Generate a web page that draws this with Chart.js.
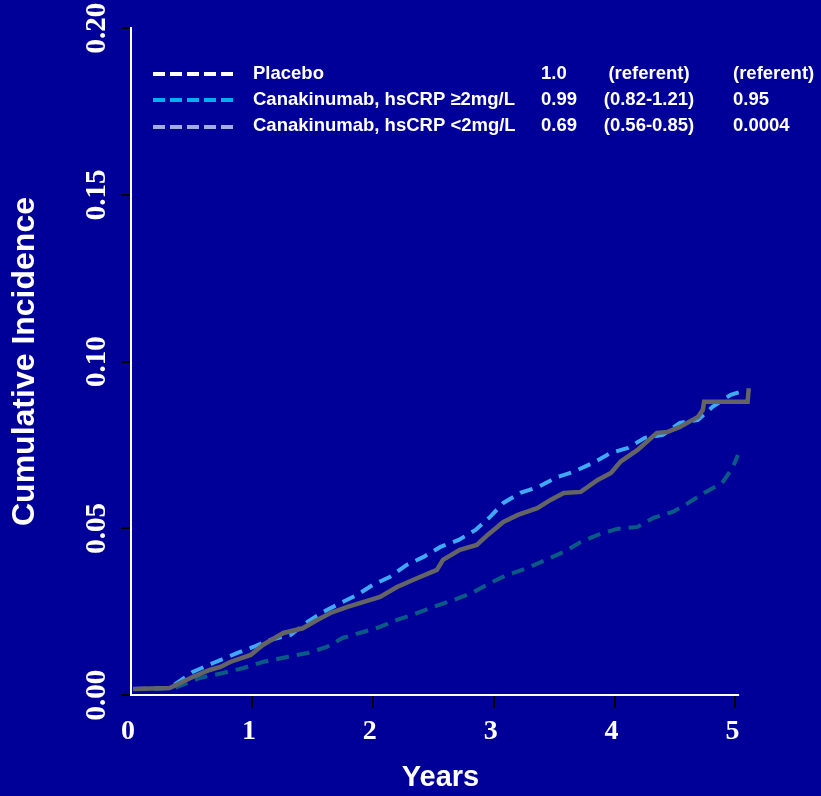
<!DOCTYPE html>
<html>
<head>
<meta charset="utf-8">
<script src="https://cdn.jsdelivr.net/npm/chart.js@4.4.0/dist/chart.umd.min.js"></script>
<style>
  html, body { margin: 0; padding: 0; background: #000099; }
  #wrap { width: 821px; height: 796px; }
</style>
</head>
<body>
<div id="wrap"><canvas id="km"></canvas></div>
<script>
// cumulative incidence curves (years, incidence)
const placeboYears = [0.02, 0.32, 0.51, 0.65, 0.74, 0.82, 0.99, 1.09, 1.26, 1.42, 1.54, 1.65, 1.79, 1.98, 2.06, 2.20, 2.37, 2.53, 2.58, 2.72, 2.86, 2.95, 3.08, 3.20, 3.36, 3.47, 3.58, 3.72, 3.86, 3.97, 4.05, 4.19, 4.35, 4.44, 4.54, 4.69, 4.73, 4.74, 5.10, 5.11];
const placeboInc = [0.0018, 0.0021, 0.0054, 0.0075, 0.0084, 0.0099, 0.012, 0.015, 0.0186, 0.020, 0.0225, 0.0246, 0.0264, 0.0285, 0.0294, 0.0324, 0.0351, 0.0375, 0.0405, 0.0435, 0.045, 0.048, 0.0519, 0.054, 0.056, 0.0585, 0.0606, 0.0609, 0.0645, 0.0666, 0.070, 0.0735, 0.0786, 0.0789, 0.0804, 0.0834, 0.0855, 0.0879, 0.0879, 0.092];

const highCrpYears = [0.02, 0.32, 0.51, 0.68, 0.88, 1.01, 1.15, 1.32, 1.46, 1.59, 1.75, 1.87, 2.00, 2.14, 2.28, 2.42, 2.56, 2.71, 2.85, 2.97, 3.08, 3.22, 3.37, 3.53, 3.66, 3.82, 3.97, 4.11, 4.25, 4.40, 4.54, 4.69, 4.81, 4.96, 5.04];
const highCrpInc = [0.0018, 0.0021, 0.0069, 0.0096, 0.0126, 0.0144, 0.0165, 0.018, 0.0219, 0.0249, 0.0279, 0.030, 0.033, 0.0354, 0.039, 0.0414, 0.0444, 0.0465, 0.0495, 0.0534, 0.0576, 0.0606, 0.0624, 0.0654, 0.0669, 0.0696, 0.0726, 0.0741, 0.0771, 0.078, 0.0816, 0.0825, 0.0864, 0.090, 0.0909];

const lowCrpYears = [0.02, 0.36, 0.57, 0.76, 0.93, 1.09, 1.29, 1.46, 1.62, 1.75, 1.92, 2.06, 2.20, 2.37, 2.50, 2.67, 2.82, 2.97, 3.11, 3.28, 3.43, 3.58, 3.72, 3.86, 4.02, 4.19, 4.32, 4.48, 4.61, 4.74, 4.89, 4.98, 5.02];
const lowCrpInc = [0.0018, 0.0021, 0.0051, 0.0066, 0.0081, 0.0099, 0.0114, 0.0126, 0.0144, 0.0171, 0.0189, 0.0204, 0.0225, 0.0246, 0.0264, 0.0285, 0.0306, 0.0336, 0.036, 0.0381, 0.0405, 0.0429, 0.0459, 0.048, 0.0498, 0.0504, 0.0531, 0.0549, 0.0576, 0.0606, 0.0636, 0.0684, 0.072];

// legend table
const legendLabels = ['Placebo', 'Canakinumab, hsCRP \u22652mg/L', 'Canakinumab, hsCRP <2mg/L'];
const hazardRatios = ['1.0', '0.99', '0.69'];
const confIntervals = ['(referent)', '(0.82-1.21)', '(0.56-0.85)'];
const pValues = ['(referent)', '0.95', '0.0004'];

const xTicks = [0, 1, 2, 3, 4, 5];
const xAxisEnd = 5.03;

const legendColors = ['#ffffff', '#00b0f0', '#a4addf'];

function toPoints(xs, ys) {
    return xs.map((x, i) => ({ x: x, y: ys[i] }));
}

// x axis line, rotated y tick labels and the legend table
const extrasPlugin = {
    id: 'extras',
    beforeDatasetsDraw(chart) {
        const ctx = chart.ctx;
        const xScale = chart.scales.x;
        const area = chart.chartArea;
        ctx.save();
        ctx.strokeStyle = '#ffffff';
        ctx.lineWidth = 2;
        ctx.beginPath();
        ctx.moveTo(area.left - 1, area.bottom);
        ctx.lineTo(xScale.getPixelForValue(xAxisEnd), area.bottom);
        ctx.stroke();
        ctx.restore();
    },
    afterDraw(chart) {
        const ctx = chart.ctx;
        const yScale = chart.scales.y;
        ctx.save();
        ctx.fillStyle = '#ffffff';
        ctx.font = 'bold 29px "Liberation Serif"';
        ctx.textAlign = 'center';
        ctx.textBaseline = 'middle';
        yScale.ticks.forEach(t => {
            const py = yScale.getPixelForValue(t.value);
            ctx.save();
            ctx.translate(98, py);
            ctx.rotate(-Math.PI / 2);
            ctx.fillText(Number(t.value).toFixed(2), 0, 0);
            ctx.restore();
        });

        const rowY = [74, 100, 126];
        ctx.font = 'bold 18.5px "Liberation Sans"';
        legendLabels.forEach((label, i) => {
            ctx.strokeStyle = legendColors[i];
            ctx.lineWidth = 4;
            ctx.setLineDash([12, 5]);
            ctx.beginPath();
            ctx.moveTo(153, rowY[i] + (i === 2 ? 1 : 0));
            ctx.lineTo(233, rowY[i] + (i === 2 ? 1 : 0));
            ctx.stroke();

            ctx.textAlign = 'left';
            ctx.fillText(label, 253, rowY[i]);
            ctx.fillText(hazardRatios[i], 541, rowY[i]);
            ctx.textAlign = 'center';
            ctx.fillText(confIntervals[i], 649, rowY[i]);
            ctx.textAlign = 'left';
            ctx.fillText(pValues[i], 733, rowY[i]);
        });
        ctx.restore();
    }
};

const ctx = document.getElementById('km').getContext('2d');

new Chart(ctx, {
    type: 'line',
    data: {
        datasets: [{
            label: legendLabels[0],
            data: toPoints(placeboYears, placeboInc),
            borderColor: '#646464',
            borderWidth: 4.5,
            order: 1,
            clip: false
        }, {
            label: legendLabels[1],
            data: toPoints(highCrpYears, highCrpInc),
            borderColor: '#3fa9f5',
            borderWidth: 4,
            borderDash: [13, 8],
            order: 2,
            clip: false
        }, {
            label: legendLabels[2],
            data: toPoints(lowCrpYears, lowCrpInc),
            borderColor: '#0a5a86',
            borderWidth: 4,
            borderDash: [13, 8],
            order: 3,
            clip: false
        }]
    },
    options: {
        responsive: true,
        maintainAspectRatio: false,
        devicePixelRatio: 1,
        animation: false,
        layout: { padding: { top: 28, right: 71, left: 0, bottom: 0 } },
        elements: {
            point: { radius: 0 },
            line: { tension: 0, borderCapStyle: 'butt' }
        },
        plugins: {
            legend: { display: false },
            tooltip: { enabled: false }
        },
        scales: {
            x: {
                type: 'linear',
                min: 0,
                max: 5.12,
                afterBuildTicks: s => { s.ticks = xTicks.map(v => ({ value: v })); },
                afterFit: s => { s.height = 101; },
                border: { display: false },
                grid: {
                    drawOnChartArea: false,
                    drawTicks: true,
                    tickLength: 13,
                    lineWidth: 2,
                    tickWidth: 2,
                    tickColor: c => (c.tick && c.tick.value === 0 ? 'rgba(0,0,0,0)' : '#000000')
                },
                ticks: {
                    color: '#ffffff',
                    font: { family: 'Liberation Serif', size: 28, weight: 'bold' },
                    padding: 7,
                    labelOffset: -3,
                    maxRotation: 0,
                    autoSkip: false
                },
                title: {
                    display: true,
                    text: 'Years',
                    color: '#ffffff',
                    font: { family: 'Liberation Sans', size: 29, weight: 'bold' },
                    padding: { top: 0, bottom: 1 }
                }
            },
            y: {
                min: 0,
                max: 0.2,
                afterFit: s => { s.width = 131; },
                border: { color: '#ffffff', width: 2 },
                grid: {
                    drawOnChartArea: false,
                    drawTicks: true,
                    tickLength: 10,
                    lineWidth: 2,
                    tickWidth: 2,
                    tickColor: '#000000'
                },
                ticks: {
                    stepSize: 0.05,
                    display: false
                },
                title: {
                    display: true,
                    text: 'Cumulative Incidence',
                    color: '#ffffff',
                    font: { family: 'Liberation Sans', size: 32, weight: 'bold' },
                    padding: { top: 6, bottom: 0 }
                }
            }
        }
    },
    plugins: [extrasPlugin]
});
</script>
</body>
</html>
